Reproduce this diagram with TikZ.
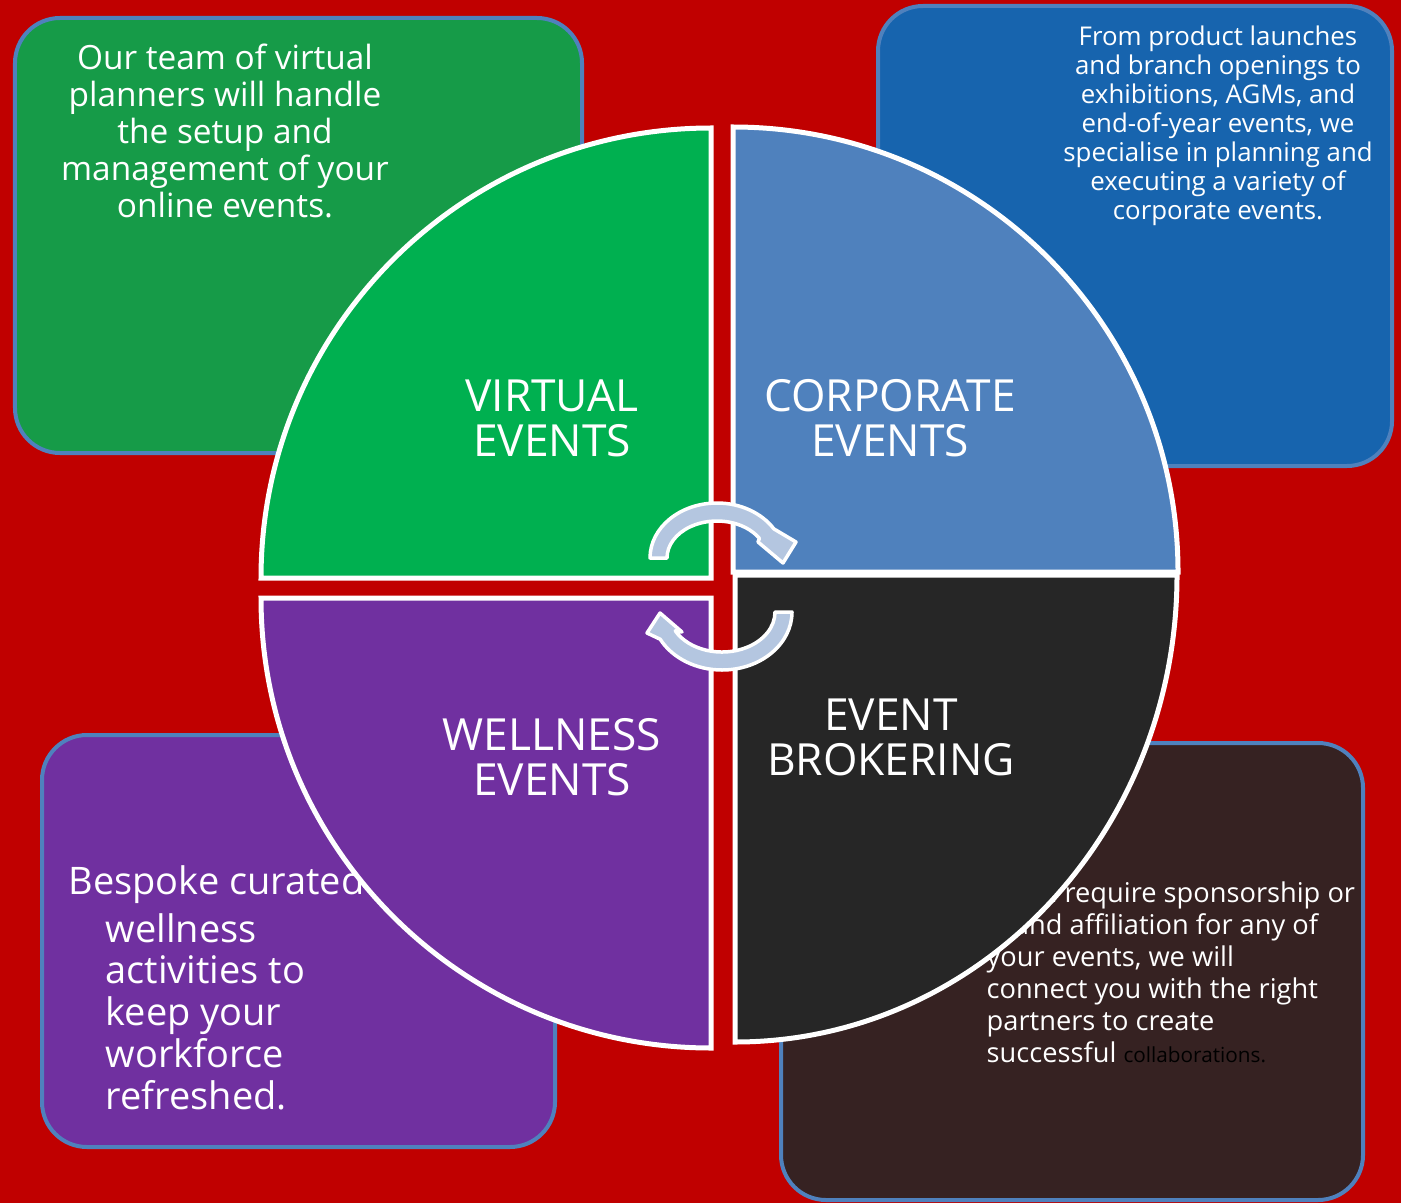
\documentclass[tikz,border=0pt]{standalone}
\usepackage{fontspec}
\setmainfont{Open Sans}
\definecolor{bgred}{RGB}{192,0,0}
\definecolor{boxline}{RGB}{79,129,189}
\definecolor{greenbox}{RGB}{22,155,72}
\definecolor{bluebox}{RGB}{23,100,174}
\definecolor{purplebox}{RGB}{112,48,160}
\definecolor{brownbox}{RGB}{54,34,34}
\definecolor{greenquad}{RGB}{0,176,80}
\definecolor{bluequad}{RGB}{79,129,189}
\definecolor{darkquad}{RGB}{38,38,38}
\definecolor{arrowfill}{RGB}{180,198,224}
\tikzset{
  infobox/.style={draw=boxline, line width=0.04cm, rounded corners=0.45cm},
  quadrant/.style={draw=white, line width=0.05cm, line join=miter},
  turnarrow/.style={fill=arrowfill, draw=white, line width=0.035cm, line join=round},
  boxtext/.style={text=white, inner sep=0pt},
  quadlabel/.style={text=white, inner sep=0pt, align=center, font=\fontsize{12.6}{12.8}\selectfont}
}
\begin{document}
\begin{tikzpicture}
                \useasboundingbox (0,0) rectangle (14.01,12.03);
                % Drawing background
                \fill [bgred] (0,0) rectangle (14.01,12.03);%
                
                % Drawing box virtual
                \draw [infobox, fill=greenbox] (0.15,11.85) rectangle (5.82,7.50);%
                \node (virtualtext) [boxtext, align=center, font=\fontsize{9.5}{10.5}\selectfont] at (2.25,10.72) {Our team of virtual\\ planners will handle\\ the setup and\\ management of your\\ online events.};%
                
                % Drawing box corporate
                \draw [infobox, fill=bluebox] (8.78,11.97) rectangle (13.92,7.37);%
                \node (corporatetext) [boxtext, align=center, font=\fontsize{7.35}{8.25}\selectfont] at (12.18,10.77) {From product launches\\ and branch openings to\\ exhibitions, AGMs, and\\ end-of-year events, we\\ specialise in planning and\\ executing a variety of\\ corporate events.};%
                
                % Drawing box wellness
                \draw [infobox, fill=purplebox] (0.42,4.68) rectangle (5.55,0.56);%
                \node (wellnesshead) [boxtext, anchor=west, font=\fontsize{10.8}{11.9}\selectfont] at (0.68,3.18) {Bespoke curated};%
                \node (wellnesstext) [boxtext, anchor=west, align=left, font=\fontsize{10.8}{11.9}\selectfont] at (1.05,1.915) {wellness\\ activities to\\ keep your\\ workforce\\ refreshed.};%
                
                % Drawing box brokering
                \draw [infobox, fill=brownbox] (7.81,4.60) rectangle (13.63,0.03);%
                \node (brokeringtext) [boxtext, anchor=west, align=left, font=\fontsize{7.75}{9.1}\selectfont] at (9.86,2.305) {If you require sponsorship or\\ brand affiliation for any of\\ your events, we will\\ connect you with the right\\ partners to create\\ successful {\color{black}\fontsize{5.9}{9.1}\selectfont collaborations.}};%
                
                % Drawing quadrant virtual
                \draw [quadrant, fill=greenquad] (7.11,6.25) -- ++(-4.50,0) arc [start angle=180, end angle=90, radius=4.50] -- cycle;%
                
                % Drawing quadrant corporate
                \draw [quadrant, fill=bluequad] (7.33,6.31) -- ++(0,4.45) arc [start angle=90, end angle=0, radius=4.45] -- cycle;%
                
                % Drawing quadrant brokering
                \draw [quadrant, fill=darkquad] (7.35,6.28) -- ++(4.42,0) arc [start angle=0, end angle=-90, x radius=4.42, y radius=4.67] -- cycle;%
                
                % Drawing quadrant wellness
                \draw [quadrant, fill=purplebox] (7.11,6.05) -- ++(0,-4.50) arc [start angle=270, end angle=180, radius=4.50] -- cycle;%
                
                % Marking quadrant labels
                \node (virtuallabel) [quadlabel] at (5.52,7.85) {VIRTUAL\\ EVENTS};%
                \node (corporatelabel) [quadlabel] at (8.90,7.85) {CORPORATE\\ EVENTS};%
                \node (brokeringlabel) [quadlabel] at (8.91,4.66) {EVENT\\ BROKERING};%
                \node (wellnesslabel) [quadlabel] at (5.52,4.46) {WELLNESS\\ EVENTS};%
                
                % Drawing turning arrow top
                \draw [turnarrow] (6.50,6.45) arc [start angle=180, end angle=32, x radius=0.67, y radius=0.55]
                  -- (7.96,6.61) -- (7.83,6.40) -- (7.58,6.61) -- (7.594,6.646)
                  arc [start angle=32, end angle=180, x radius=0.50, y radius=0.37] -- cycle;%
                
                % Drawing turning arrow bottom
                \draw [turnarrow] (7.92,5.91) arc [start angle=0, end angle=-152, x radius=0.70, y radius=0.58]
                  -- (6.47,5.70) -- (6.60,5.90) -- (6.82,5.71) -- (6.752,5.722)
                  arc [start angle=-152, end angle=0, x radius=0.53, y radius=0.40] -- cycle;%
\end{tikzpicture}
\end{document}
